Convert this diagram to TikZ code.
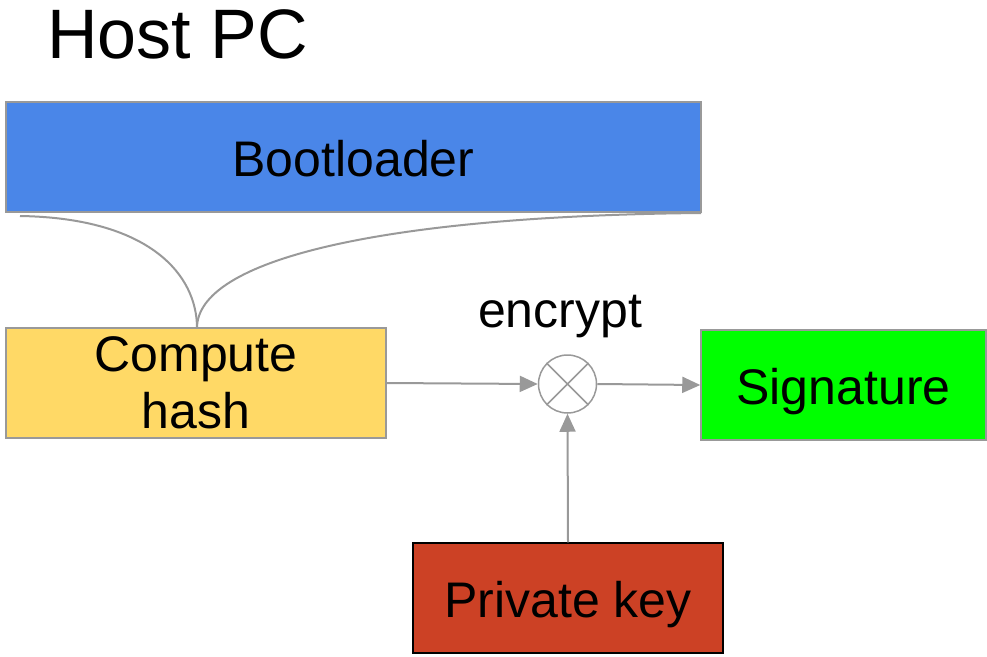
\documentclass[tikz,border=0pt]{standalone}
\usepackage{fontspec}
\setmainfont{Liberation Sans}
\usetikzlibrary{arrows.meta}
\definecolor{edgegray}{HTML}{999999}
\definecolor{bootblue}{HTML}{4A86E8}
\definecolor{hashyellow}{HTML}{FFD966}
\definecolor{siggreen}{HTML}{00FF00}
\definecolor{keyred}{HTML}{CC4125}
\begin{document}
\begin{tikzpicture}[x=1pt,y=-1pt,
  blockbox/.style={draw=edgegray,line width=1.5pt,inner sep=0pt,
    font=\fontsize{50}{57.5}\selectfont,align=center},
  oneline/.style={text height=42pt,text depth=4pt},
  wire/.style={draw=edgegray,line width=2pt},
  flow/.style={wire,-{Triangle[length=18pt,width=16pt]}}]
\useasboundingbox (0,0) rectangle (987,656);

\node[anchor=base west,inner sep=0pt,font=\fontsize{70}{80}\selectfont] (title) at (47,58) {Host PC};

\node[blockbox,oneline,fill=bootblue,minimum width=695pt,minimum height=110pt] (boot) at (353.5,157) {Bootloader};
\node[blockbox,fill=hashyellow,minimum width=380pt,minimum height=110pt] (hash) at (196,383) {Compute\\hash};
\node[blockbox,oneline,fill=siggreen,minimum width=285pt,minimum height=110pt] (sig) at (843.5,385) {Signature};
\node[blockbox,oneline,draw=black,fill=keyred,minimum width=310pt,minimum height=110pt] (key) at (568,598) {Private key};

% encryption operator: circle with a diagonal cross
\node[circle,draw=edgegray,line width=1.5pt,minimum size=58pt,inner sep=0pt] (enc) at (567.5,384) {};
\draw[edgegray,line width=1.5pt] (enc.45) -- (enc.225) (enc.135) -- (enc.315);
\node[anchor=base,font=\fontsize{50}{57.5}\selectfont,inner sep=0pt] (enclabel) at (560,327) {encrypt};

% both halves of the bootloader feed the hash
\coordinate (bootL) at (20,216);
\coordinate (bootR) at (701,213);
\coordinate (hashTop) at (197,328);
\draw[wire] (bootL) .. controls (150,218) and (197,275) .. (hashTop);
\draw[wire] (bootR) .. controls (380,216) and (197,260) .. (hashTop);

\draw[flow] (hash.east) -- (enc.west);
\draw[flow] (enc.east) -- (sig.west);
\draw[flow] (key.north) -- (enc.south);
\end{tikzpicture}
\end{document}
